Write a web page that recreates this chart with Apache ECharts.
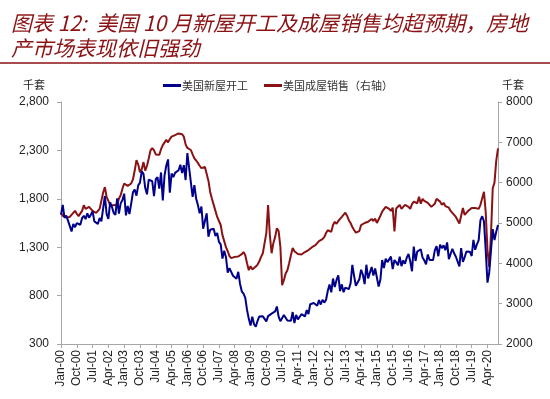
<!DOCTYPE html>
<html>
<head>
<meta charset="utf-8">
<script src="https://cdn.jsdelivr.net/npm/echarts@6/dist/echarts.min.js"></script>
<style>
  html, body { margin: 0; padding: 0; background: #fff; }
  #main { width: 550px; height: 399px; }
</style>
</head>
<body>
<div id="main"></div>
<script>
// monthly, Jan-00 .. Oct-20
var startYear = 2000, monthCount = 250;
var monthNames = ['Jan', 'Feb', 'Mar', 'Apr', 'May', 'Jun', 'Jul', 'Aug', 'Sep', 'Oct', 'Nov', 'Dec'];

// 美国新屋开工 (千套), one row per year
var housingStarts = [
  1636, 1737, 1604, 1626, 1575, 1559, 1463, 1541, 1507, 1549, 1551, 1532,
  1600, 1625, 1590, 1649, 1605, 1636, 1670, 1567, 1562, 1540, 1602, 1568,
  1698, 1829, 1642, 1592, 1764, 1717, 1655, 1633, 1804, 1648, 1753, 1788,
  1853, 1629, 1726, 1643, 1751, 1867, 1897, 1833, 1939, 1967, 2083, 2057,
  1911, 1846, 1998, 2003, 1981, 1828, 2002, 2024, 1905, 2072, 1782, 2042,
  2144, 2207, 1864, 2061, 2025, 2068, 2054, 2095, 2151, 2065, 2147, 1994,
  2273, 2119, 1969, 1821, 1942, 1802, 1737, 1650, 1720, 1491, 1570, 1649,
  1409, 1480, 1495, 1490, 1415, 1448, 1354, 1330, 1183, 1264, 1197, 1037,
  1084, 1103, 1005, 1013, 973, 1046, 923, 844, 820, 777, 652, 560,
  490, 582, 505, 478, 540, 585, 594, 586, 585, 534, 588, 581,
  614, 604, 636, 687, 583, 536, 546, 599, 594, 543, 545, 539,
  630, 517, 600, 554, 561, 608, 623, 585, 650, 610, 711, 694,
  723, 704, 695, 753, 708, 757, 728, 754, 847, 915, 833, 976,
  888, 962, 1010, 847, 916, 835, 883, 889, 867, 926, 1117, 1004,
  902, 936, 969, 1067, 1015, 918, 1119, 977, 1036, 1096, 1008, 1080,
  1087, 893, 966, 1167, 1084, 1181, 1146, 1129, 1203, 1074, 1168, 1143,
  1114, 1201, 1104, 1164, 1128, 1192, 1230, 1155, 1052, 1307, 1158, 1255,
  1238, 1279, 1193, 1164, 1124, 1225, 1167, 1160, 1167, 1267, 1310, 1207,
  1327, 1290, 1319, 1269, 1350, 1177, 1185, 1284, 1237, 1201, 1215, 1101,
  1291, 1149, 1196, 1255, 1271, 1254, 1209, 1376, 1274, 1330, 1373, 1580,
  1620, 1567, 1269, 934, 1038, 1265, 1487, 1373, 1459, 1530
];

// 美国成屋销售 (千套, 右轴), one row per year
var existingSales = [
  5250, 5180, 5150, 5140, 5170, 5150, 5200, 5250, 5300, 5230, 5170, 5150,
  5300, 5440, 5350, 5380, 5400, 5420, 5300, 5330, 5250, 5300, 5350, 5330,
  5750, 5890, 5650, 5550, 5440, 5420, 5440, 5400, 5450, 5600, 5690, 5850,
  5980, 6010, 5920, 5930, 5980, 6080, 6300, 6560, 6450, 6260, 6330, 6510,
  6300, 6420, 6600, 6800, 6860, 6800, 6700, 6700, 6690, 6830, 6930, 6950,
  7060, 7000, 7080, 7140, 7100, 7180, 7200, 7220, 7260, 7200, 7140, 6950,
  6860, 6830, 6810, 6700, 6600, 6550, 6490, 6420, 6360, 6370, 6390, 6390,
  6050, 5770, 5600, 5450, 5300, 5150, 5050, 4950, 4700, 4550, 4400, 4300,
  4180, 4130, 4120, 4160, 4150, 4170, 4190, 4230, 4280, 4200, 4000, 3830,
  3930, 3850, 3880, 3920, 3970, 4050, 4160, 4250, 4500, 4750, 5445, 4700,
  4250, 4500, 4650, 4870, 4800, 4410, 3460, 3580, 3750, 3830, 4000, 4200,
  4380, 4300, 4260, 4230, 4210, 4220, 4240, 4280, 4300, 4330, 4360, 4400,
  4410, 4450, 4500, 4550, 4575, 4600, 4650, 4750, 4820, 4800, 4780, 4950,
  5030, 4980, 5050, 5100, 5150, 5120, 5255, 5180, 5070, 5000, 4900, 4825,
  4760, 4750, 4800, 4950, 4980, 5000, 5030, 5030, 5000, 5100, 5050, 5110,
  5000, 4990, 5180, 5280, 5320, 5400, 5445, 5350, 5300, 5380, 4790, 5360,
  5400, 5450, 5350, 5400, 5450, 5490, 5400, 5350, 5470, 5530, 5550, 5490,
  5650, 5480, 5600, 5550, 5530, 5500, 5450, 5400, 5380, 5480, 5600, 5560,
  5530, 5450, 5500, 5420, 5400, 5380, 5300, 5300, 5200, 5150, 5070, 4990,
  5000, 5370, 5200, 5200, 5300, 5300, 5370, 5400, 5370, 5330, 5350, 5450,
  5460, 5775, 5270, 4330, 3910, 4720, 5860, 6000, 6540, 6850
];

var leftTicks = [300, 800, 1300, 1800, 2300, 2800];
var rightTicks = [2000, 3000, 4000, 5000, 6000, 7000, 8000];

var months = [];
for (var i = 0; i < monthCount; i++) {
  var yy = (startYear + Math.floor(i / 12)) % 100;
  months.push(monthNames[i % 12] + '-' + (yy < 10 ? '0' + yy : '' + yy));
}

var darkRed = '#8B1214';
var navy = '#00008B';
var axisGray = '#A6A6A6';
var labelFont = 'Liberation Sans, Arial, sans-serif';
var cnFont = 'Noto Sans CJK SC, sans-serif';

var chart = echarts.init(document.getElementById('main'));
chart.setOption({
  animation: false,
  title: {
    text: '图表 12:  美国 10 月新屋开工及成屋销售均超预期，房地\n产市场表现依旧强劲',
    left: 6,
    top: 6,
    textStyle: {
      color: darkRed,
      fontFamily: cnFont,
      fontStyle: 'italic',
      fontWeight: 'normal',
      fontSize: 21,
      lineHeight: 25
    }
  },
  graphic: [{
    type: 'line',
    shape: { x1: 0, y1: 63, x2: 550, y2: 63 },
    style: { stroke: darkRed, lineWidth: 1.5 }
  }],
  legend: {
    left: 158,
    top: 75,
    itemGap: 16,
    itemWidth: 18,
    itemHeight: 3,
    icon: 'rect',
    textStyle: { fontFamily: cnFont, fontSize: 11, color: '#333', padding: [0, 0, 0, -4] },
    data: ['美国新屋开工', '美国成屋销售（右轴）']
  },
  grid: { left: 61, right: 52, top: 102, bottom: 55 },
  xAxis: {
    type: 'category',
    boundaryGap: false,
    data: months,
    axisLine: { lineStyle: { color: axisGray } },
    axisTick: { interval: 8, length: 4, lineStyle: { color: axisGray } },
    axisLabel: {
      interval: 8,
      rotate: 90,
      margin: 6,
      color: '#222',
      fontFamily: labelFont,
      fontSize: 12
    },
    splitLine: { show: false }
  },
  yAxis: [{
    type: 'value',
    min: leftTicks[0],
    max: leftTicks[leftTicks.length - 1],
    interval: 500,
    name: '千套',
    nameLocation: 'end',
    nameGap: 12,
    nameTextStyle: { fontFamily: cnFont, fontSize: 11, color: '#222', align: 'right', padding: [0, 16, 0, 0] },
    axisLine: { show: true, lineStyle: { color: axisGray } },
    axisTick: { show: true, length: 4, lineStyle: { color: axisGray } },
    axisLabel: {
      margin: 12,
      color: '#222',
      fontFamily: labelFont,
      fontSize: 12,
      formatter: function (v) { return v.toLocaleString('en-US'); }
    },
    splitLine: { show: false }
  }, {
    type: 'value',
    min: rightTicks[0],
    max: rightTicks[rightTicks.length - 1],
    interval: 1000,
    name: '千套',
    nameLocation: 'end',
    nameGap: 12,
    nameTextStyle: { fontFamily: cnFont, fontSize: 11, color: '#222', align: 'left', padding: [0, 0, 0, 4] },
    axisLine: { show: true, lineStyle: { color: axisGray } },
    axisTick: { show: true, length: 4, lineStyle: { color: axisGray } },
    axisLabel: {
      margin: 8,
      color: '#222',
      fontFamily: labelFont,
      fontSize: 12,
      formatter: function (v) { return String(v); }
    },
    splitLine: { show: false }
  }],
  series: [{
    name: '美国新屋开工',
    type: 'line',
    yAxisIndex: 0,
    data: housingStarts,
    showSymbol: false,
    color: navy,
    lineStyle: { width: 2, color: navy },
    z: 3
  }, {
    name: '美国成屋销售（右轴）',
    type: 'line',
    yAxisIndex: 1,
    data: existingSales,
    showSymbol: false,
    color: darkRed,
    lineStyle: { width: 2, color: darkRed },
    z: 2
  }]
});
</script>
</body>
</html>
